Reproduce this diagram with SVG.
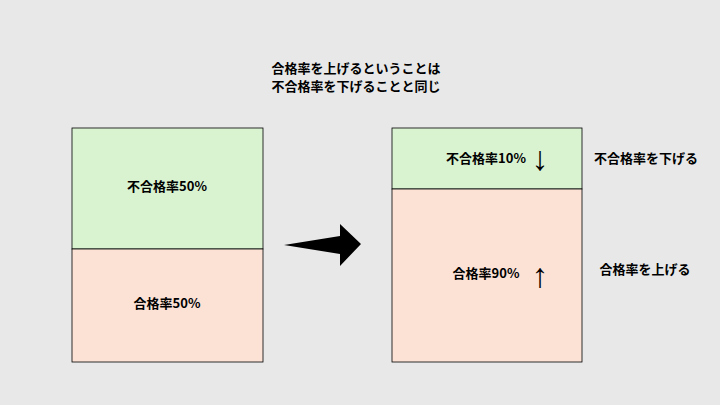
<svg xmlns="http://www.w3.org/2000/svg" width="720" height="405" viewBox="0 0 720 405">
<style>
text{font-family:"Noto Sans CJK JP","Noto Sans",sans-serif;font-weight:bold;font-size:13px;fill:#000;text-anchor:middle}
.g{fill:#d9f2d0;stroke:#000;stroke-width:0.8}
.p{fill:#fbe2d5;stroke:#000;stroke-width:0.8}
.ar{font-family:"Liberation Sans",sans-serif;font-weight:normal;font-size:34px}
</style>
<rect width="720" height="405" fill="#e8e8e8"/>
<g id="title">
<text x="356" y="73">合格率を上げるということは</text>
<text x="356" y="91">不合格率を下げることと同じ</text>
</g>
<g id="left-fail"><rect class="g" x="72" y="128" width="191" height="121"/><text x="167" y="191">不合格率50%</text></g>
<g id="left-pass"><rect class="p" x="72" y="249" width="191" height="113"/><text x="167" y="308">合格率50%</text></g>
<g id="connectors"><polygon points="284,245 340,236 340,224 361,244 340,266 340,254" fill="#000"/></g>
<g id="right-fail"><rect class="g" x="392" y="128" width="190" height="61"/><text x="486" y="163">不合格率10%</text><text class="ar" x="540" y="170">↓</text></g>
<g id="right-pass"><rect class="p" x="392" y="189" width="190" height="173"/><text x="486" y="278">合格率90%</text><text class="ar" x="540" y="287">↑</text></g>
<g id="labels">
<text x="646" y="163">不合格率を下げる</text>
<text x="645" y="274">合格率を上げる</text>
</g>
</svg>
